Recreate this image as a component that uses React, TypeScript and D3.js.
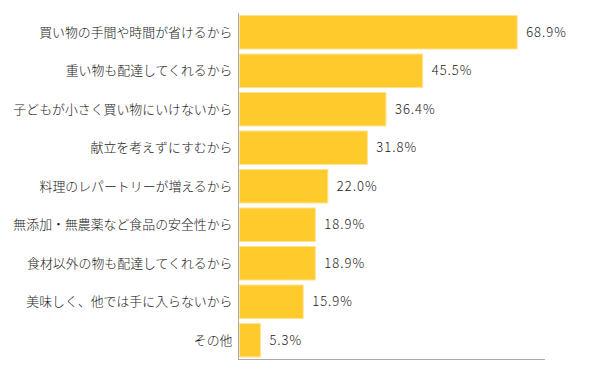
import React from "react";
import * as d3 from "d3";

const categories = [
  "買い物の手間や時間が省けるから",
  "重い物も配達してくれるから",
  "子どもが小さく買い物にいけないから",
  "献立を考えずにすむから",
  "料理のレパートリーが増えるから",
  "無添加・無農薬など食品の安全性から",
  "食材以外の物も配達してくれるから",
  "美味しく、他では手に入らないから",
  "その他",
];
const values = [68.9, 45.5, 36.4, 31.8, 22.0, 18.9, 18.9, 15.9, 5.3];

export default function App() {
  const W = 599, H = 375;
  const x0 = 239, x1 = 545, yTop = 13, yBot = 359.5;
  const x = d3.scaleLinear().domain([0, 75.8]).range([x0, x1]);
  const y = d3.scaleBand().domain(categories).range([yTop, yBot]).paddingInner(0.13).paddingOuter(0.065);
  const font = "'Noto Sans CJK JP', 'Noto Sans', sans-serif";
  return (
    <svg width={W} height={H} style={{ position: "absolute", left: 0, top: 0 }} fontFamily={font}>
      <rect width={W} height={H} fill="#fff" />
      {categories.map((c, i) => (
        <g key={c}>
          <rect x={x(0) + 0.5} y={y(c)!} width={x(values[i]) - x(0) - 0.5} height={y.bandwidth()}
            fill="#FFCA2C" stroke="#FFE38F" strokeWidth={1} />
          <text x={232.5} y={y(c)! + y.bandwidth() / 2} dy="0.36em" textAnchor="end" fontSize={12.9} fill="#1a1a1a" fontWeight={300}>{c}</text>
          <text x={x(values[i]) + 9} y={y(c)! + y.bandwidth() / 2} dy="0.36em" fontSize={13} fill="#1a1a1a" fontWeight={300} letterSpacing={1}>{values[i].toFixed(1)}%</text>
        </g>
      ))}
      <line x1={x0 - 0.5} x2={x0 - 0.5} y1={yTop} y2={yBot} stroke="#aaa" />
      <line x1={x0 - 1} x2={x1} y1={yBot} y2={yBot} stroke="#aaa" />
    </svg>
  );
}
